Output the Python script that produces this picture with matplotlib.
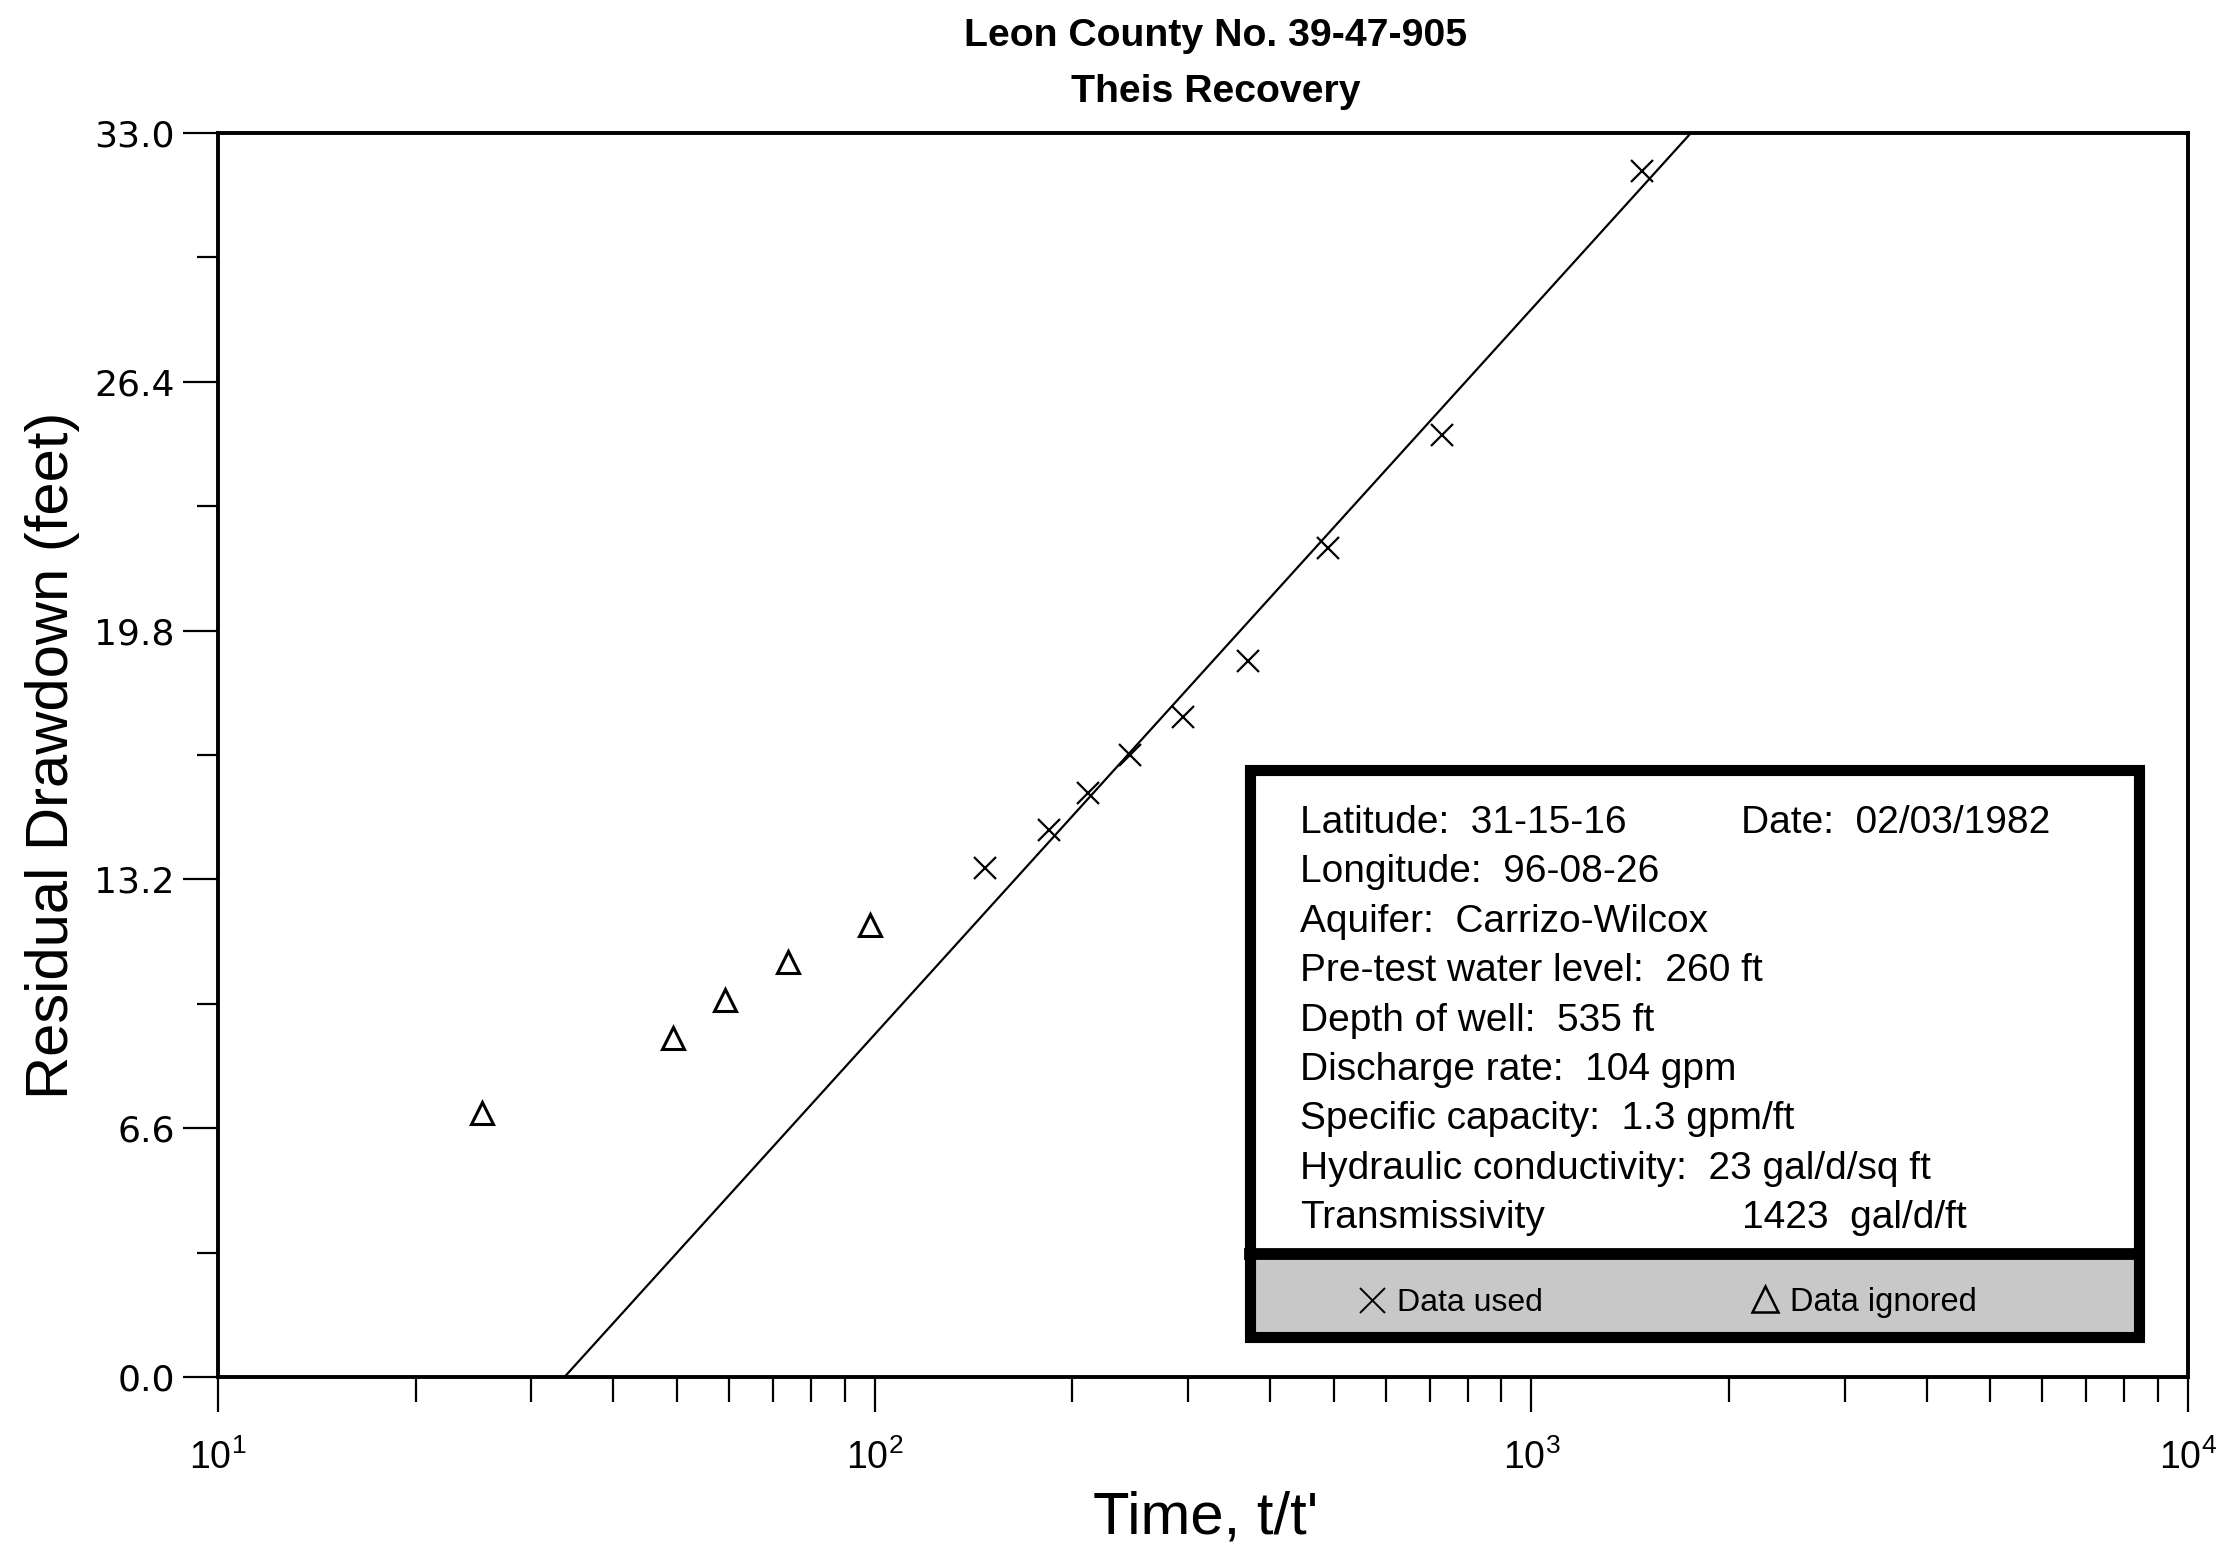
import numpy as np
import matplotlib
matplotlib.use('Agg')
import matplotlib.pyplot as plt
from matplotlib.patches import Rectangle
from matplotlib.lines import Line2D
from matplotlib.ticker import FixedLocator, LogLocator, NullFormatter

plt.rcParams['font.family'] = ['Liberation Sans', 'DejaVu Sans']
plt.rcParams['mathtext.fontset'] = 'custom'
plt.rcParams['mathtext.rm'] = 'Liberation Sans'
plt.rcParams['mathtext.it'] = 'Liberation Sans:italic'
plt.rcParams['mathtext.bf'] = 'Liberation Sans:bold'

# data
used_x = [147, 184.5, 211, 245, 295, 370, 491, 731, 1473]
used_y = [13.5, 14.5, 15.5, 16.5, 17.5, 19.0, 22.0, 25.0, 32.0]
ignored_x = [25.2, 49.3, 59.2, 73.9, 98.4]
ignored_y = [7.0, 9.0, 10.0, 11.0, 12.0]
fit_x = [33.7, 1750]
fit_y = [0.0, 33.0]

yticks = [0.0, 6.6, 13.2, 19.8, 26.4, 33.0]
yminor = [3.3, 9.9, 16.5, 23.1, 29.7]

title1 = 'Leon County No. 39-47-905'
title2 = 'Theis Recovery'
info_lines = ['Latitude:  31-15-16',
              'Longitude:  96-08-26',
              'Aquifer:  Carrizo-Wilcox',
              'Pre-test water level:  260 ft',
              'Depth of well:  535 ft',
              'Discharge rate:  104 gpm',
              'Specific capacity:  1.3 gpm/ft',
              'Hydraulic conductivity:  23 gal/d/sq ft',
              'Transmissivity']
date_text = 'Date:  02/03/1982'
trans_value = '1423  gal/d/ft'

W, H = 2231, 1563
fig = plt.figure(figsize=(W / 100, H / 100), dpi=100)
fig.patch.set_facecolor('white')


def fx(px):
    return px / W


def fy(py):
    return 1 - py / H


ax = fig.add_axes([fx(218), fy(1377), fx(2188) - fx(218), fy(133) - fy(1377)])

ax.plot(fit_x, fit_y, color='black', lw=1.6, zorder=2)
ax.plot(used_x, used_y, linestyle='none', marker='x', ms=16.5, mew=1.6,
        color='black', zorder=3)
ax.plot(ignored_x, ignored_y, linestyle='none', marker='^', ms=16.5, mew=2.2,
        mfc='none', mec='black', zorder=3)

ax.set_xscale('log')
ax.set_xlim(10, 1e4)
ax.set_ylim(0, 33)

ax.yaxis.set_major_locator(FixedLocator(yticks))
ax.yaxis.set_minor_locator(FixedLocator(yminor))
ax.set_yticklabels(['%.1f' % v for v in yticks], fontfamily='DejaVu Sans', fontsize=26)
ax.xaxis.set_major_locator(LogLocator(base=10, numticks=10))
ax.xaxis.set_minor_locator(LogLocator(base=10, subs=np.arange(2, 10), numticks=20))
ax.xaxis.set_minor_formatter(NullFormatter())

for s in ax.spines.values():
    s.set_linewidth(2.8)
ax.tick_params(axis='both', which='major', direction='out', length=25, width=1.6)
ax.tick_params(axis='x', which='major', pad=20, labelsize=27)
ax.tick_params(axis='y', which='major', pad=6)
ax.tick_params(axis='y', which='minor', direction='out', length=15, width=1.6)
ax.tick_params(axis='x', which='minor', direction='out', length=18, width=1.6)
ax.tick_params(top=False, right=False, which='both')

ax.set_xlabel("Time, t/t'", fontsize=43, va='top')
ax.xaxis.set_label_coords((1206 - 218) / 1970, -0.0916)
ax.set_ylabel('Residual Drawdown (feet)', fontsize=43)
ax.yaxis.set_label_coords(-0.070, 0.5)

fig.text(fx(1216), fy(46), title1, fontsize=28.3, fontweight='bold',
         ha='center', va='baseline')
fig.text(fx(1216), fy(102), title2, fontsize=28.3, fontweight='bold',
         ha='center', va='baseline')

# info box
bl, br, bt, bsep, bb = 1250, 2139, 770, 1254, 1337
fig.add_artist(Rectangle((fx(bl), fy(bsep)), fx(br) - fx(bl), fy(bt) - fy(bsep),
                         transform=fig.transFigure, facecolor='white',
                         edgecolor='none', zorder=5))
fig.add_artist(Rectangle((fx(bl), fy(bb)), fx(br) - fx(bl), fy(bsep) - fy(bb),
                         transform=fig.transFigure, facecolor='#c8c8c8',
                         edgecolor='none', zorder=5))
fig.add_artist(Rectangle((fx(bl), fy(bb)), fx(br) - fx(bl), fy(bt) - fy(bb),
                         transform=fig.transFigure, facecolor='none',
                         edgecolor='black', lw=8, zorder=6))
fig.add_artist(Line2D([fx(bl), fx(br)], [fy(bsep), fy(bsep)],
                      transform=fig.transFigure, color='black', lw=8.5, zorder=6))

base0 = 833
step = 49.4
for i, line in enumerate(info_lines):
    fig.text(fx(1300), fy(base0 + i * step), line, fontsize=28,
             ha='left', va='baseline', zorder=7)
fig.text(fx(1741), fy(base0), date_text, fontsize=28, ha='left', va='baseline', zorder=7)
fig.text(fx(1742), fy(base0 + 8 * step), trans_value, fontsize=28,
         ha='left', va='baseline', zorder=7)

fig.add_artist(Line2D([fx(1372)], [fy(1300)], transform=fig.transFigure,
                      marker='x', ms=18, mew=1.4, color='black', zorder=7))
fig.text(fx(1397), fy(1311), 'Data used', fontsize=23, ha='left', va='baseline', zorder=7)
fig.add_artist(Line2D([fx(1765)], [fy(1299)], transform=fig.transFigure,
                      marker='^', ms=19, mew=1.8, mfc='none', mec='black', zorder=7))
fig.text(fx(1790), fy(1311), 'Data ignored', fontsize=23.5, ha='left', va='baseline', zorder=7)

fig.savefig('out.png', dpi=100, facecolor='white')
